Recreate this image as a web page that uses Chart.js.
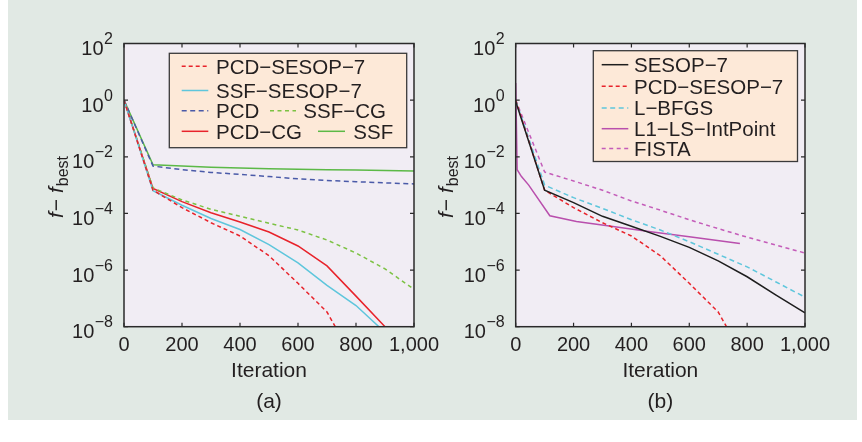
<!DOCTYPE html>
<html>
<head>
<meta charset="utf-8">
<script src="https://cdn.jsdelivr.net/npm/chart.js@4.4.1/dist/chart.umd.min.js"></script>
<style>
  html, body { margin: 0; padding: 0; background: #ffffff; }
  #wrap { position: relative; width: 862px; height: 442px; overflow: hidden; background: #ffffff; }
  #panel { position: absolute; left: 8px; top: 0; width: 849px; height: 420px; background: #e1e9e4; }
  #cA { position: absolute; left: 0; top: 0; }
  #cB { position: absolute; left: 430px; top: 0; }
</style>
</head>
<body>
<div id="wrap">
  <div id="panel"></div>
  <canvas id="cA" width="450" height="442"></canvas>
  <canvas id="cB" width="432" height="442"></canvas>
</div>
<script>
// ---- data -------------------------------------------------------------
const iterations = [0, 100, 200, 300, 400, 500, 600, 700, 800, 900, 1000];
const yTickExponents = [2, 0, -2, -4, -6, -8];
const xTickStep = 200;

// (a) coordinate-descent family
const pcdSesop7 = [1, 6.6e-4, 1.6e-4, 4.7e-5, 1.6e-5, 3.2e-6, 3.4e-7, 3.3e-8, 5.0e-10, null, null];
const ssfSesop7 = [1, 6.3e-4, 1.95e-4, 6.6e-5, 2.7e-5, 7.9e-6, 1.8e-6, 2.9e-7, 5.6e-8, 6.3e-9, null];
const pcd       = [1, 4.7e-3, 3.5e-3, 2.8e-3, 2.4e-3, 2.0e-3, 1.66e-3, 1.45e-3, 1.32e-3, 1.2e-3, 1.1e-3];
const ssfCg     = [1, 7.9e-4, 3.0e-4, 1.4e-4, 7.9e-5, 4.5e-5, 2.6e-5, 1.15e-5, 4.0e-6, 1.1e-6, 2.1e-7];
const pcdCg     = [1, 7.6e-4, 2.6e-4, 1.05e-4, 5.0e-5, 2.2e-5, 7.1e-6, 1.4e-6, 1.2e-7, 1.0e-8, null];
const ssf       = [1, 5.2e-3, 4.7e-3, 4.3e-3, 4.0e-3, 3.8e-3, 3.6e-3, 3.5e-3, 3.4e-3, 3.25e-3, 3.15e-3];

// (b) comparison with other solvers
const sesop7 = [0.9, 6.6e-4, 2.4e-4, 7.9e-5, 3.5e-5, 1.55e-5, 6.3e-6, 2.1e-6, 5.8e-7, 1.3e-7, 3.1e-8];
const lbfgs  = [1, 1.0e-3, 3.6e-4, 1.5e-4, 6.0e-5, 2.6e-5, 1.0e-5, 3.6e-6, 1.3e-6, 3.8e-7, 1.1e-7];
const fista  = [1, 2.9e-3, 1.4e-3, 6.6e-4, 2.75e-4, 1.3e-4, 6.0e-5, 2.9e-5, 1.45e-5, 7.6e-6, 4.0e-6];
const l1lsIterations = [0, 5, 20, 45, 118, 210, 330, 460, 600, 775];
const l1lsIntPoint   = [4.0, 3.5e-3, 2.0e-3, 1.0e-3, 8.3e-5, 5.2e-5, 3.5e-5, 2.3e-5, 1.5e-5, 8.7e-6];

// ---- style ------------------------------------------------------------
const FONT = "'Liberation Sans', Arial, Helvetica, sans-serif";
const INK = '#231f20';
const PLOT_BG = '#f1edf4';
const LEGEND_BG = '#fde9d8';
const RED = '#e8232b', CYAN = '#5ec6dc', BLUE = '#4a5aa8';
const GREEN_D = '#7cc243', GREEN = '#5cb947', BLACK = '#1e1e1e';
const MAGENTA = '#b94fad', MAGENTA_D = '#c45cb9';

const pts = (xs, ys) => xs.map((x, i) => ({ x, y: ys[i] })).filter(p => p.y !== null);

function line(label, xs, ys, color, dash) {
  return {
    label, data: pts(xs, ys), borderColor: color, backgroundColor: color,
    borderWidth: 1.5, borderDash: dash || [], pointRadius: 0, tension: 0, fill: false
  };
}

function drawYTitle(ctx, x, y) {
  ctx.save();
  ctx.translate(x, y);
  ctx.rotate(-Math.PI / 2);
  ctx.fillStyle = INK;
  ctx.textBaseline = 'alphabetic';
  ctx.textAlign = 'left';
  let u = 0;
  ctx.font = `italic 21px ${FONT}`;
  ctx.fillText('f', u, 0); u += ctx.measureText('f').width + 1;
  ctx.font = `21px ${FONT}`;
  ctx.fillText('\u2212 ', u, 0); u += ctx.measureText('\u2212 ').width;
  ctx.font = `italic 21px ${FONT}`;
  ctx.fillText('f', u, 0); u += ctx.measureText('f').width + 1;
  ctx.font = `16px ${FONT}`;
  ctx.fillText('best', u, 4.5);
  ctx.restore();
}

function makeDecor(spec) {
  return {
    id: 'decor',
    beforeDatasetsDraw(chart) {
      const { ctx, chartArea: a } = chart;
      ctx.save();
      ctx.fillStyle = PLOT_BG;
      ctx.fillRect(a.left, a.top, a.right - a.left, a.bottom - a.top);
      ctx.restore();
    },
    afterDatasetsDraw(chart) {
      const { ctx, chartArea: a, scales } = chart;
      const xs = scales.x, ys = scales.y;
      ctx.save();
      // frame with inward ticks on all four sides
      ctx.strokeStyle = '#2a2a2a';
      ctx.lineWidth = 1.5;
      ctx.strokeRect(a.left, a.top, a.right - a.left, a.bottom - a.top);
      ctx.lineWidth = 1.2;
      ctx.beginPath();
      xs.ticks.forEach(t => {
        const px = xs.getPixelForValue(t.value);
        ctx.moveTo(px, a.bottom); ctx.lineTo(px, a.bottom - 4);
        ctx.moveTo(px, a.top); ctx.lineTo(px, a.top + 4);
      });
      yTickExponents.forEach(e => {
        const py = ys.getPixelForValue(Math.pow(10, e));
        ctx.moveTo(a.left, py); ctx.lineTo(a.left + 4, py);
        ctx.moveTo(a.right, py); ctx.lineTo(a.right - 4, py);
      });
      ctx.stroke();

      // decade labels 10^e
      ctx.fillStyle = INK;
      ctx.textBaseline = 'alphabetic';
      ctx.textAlign = 'left';
      yTickExponents.forEach(e => {
        const py = ys.getPixelForValue(Math.pow(10, e));
        const sup = e < 0 ? '\u2212' + Math.abs(e) : String(e);
        ctx.font = `16px ${FONT}`;
        const ws = ctx.measureText(sup).width;
        ctx.font = `20px ${FONT}`;
        const wb = ctx.measureText('10').width;
        const right = a.left - 11;
        ctx.fillText('10', right - ws - wb - 0.5, py + 11.5);
        ctx.font = `16px ${FONT}`;
        ctx.fillText(sup, right - ws, py + 0.5);
      });

      drawYTitle(ctx, spec.titleX, spec.titleY);

      // legend box
      const [x0, y0, x1, y1] = spec.box;
      ctx.fillStyle = LEGEND_BG;
      ctx.fillRect(x0, y0, x1 - x0, y1 - y0);
      ctx.strokeStyle = '#3a3a3a';
      ctx.lineWidth = 1.3;
      ctx.strokeRect(x0, y0, x1 - x0, y1 - y0);
      ctx.font = `20.5px ${FONT}`;
      spec.items.forEach(it => {
        const ds = chart.data.datasets[it.ds];
        ctx.strokeStyle = ds.borderColor;
        ctx.lineWidth = ds.borderWidth;
        ctx.setLineDash(ds.borderDash);
        ctx.beginPath();
        ctx.moveTo(it.x0, it.y); ctx.lineTo(it.x1, it.y);
        ctx.stroke();
        ctx.setLineDash([]);
        ctx.fillStyle = INK;
        ctx.fillText(ds.label, it.tx, it.y + 7.4);
      });
      ctx.restore();
    }
  };
}

function makeOptions(tag, padLeft, padRight) {
  return {
    responsive: false,
    animation: false,
    locale: 'en-US',
    layout: { padding: { left: padLeft, right: padRight, top: 43.5, bottom: 0 } },
    plugins: { legend: { display: false }, tooltip: { enabled: false } },
    scales: {
      x: {
        type: 'linear', min: 0, max: 1000,
        grid: { display: false, drawTicks: false },
        border: { display: false },
        ticks: {
          stepSize: xTickStep, color: INK, padding: 7, maxRotation: 0, autoSkip: false,
          font: { family: FONT, size: 20 },
          callback: v => v.toLocaleString('en-US')
        },
        title: {
          display: true, text: ['Iteration', tag], color: INK,
          font: { family: FONT, size: 21, lineHeight: 1.5 },
          padding: { top: 0, bottom: 24 }
        },
        afterFit(s) { s.height = 115.3; }
      },
      y: { type: 'logarithmic', min: 1e-8, max: 1e2, display: false }
    }
  };
}

// ---- (a) --------------------------------------------------------------
new Chart(document.getElementById('cA'), {
  type: 'line',
  data: {
    datasets: [
      line('PCD\u2212SESOP\u22127', iterations, pcdSesop7, RED, [4, 3]),
      line('SSF\u2212SESOP\u22127', iterations, ssfSesop7, CYAN),
      line('PCD', iterations, pcd, BLUE, [5, 3.5]),
      line('SSF\u2212CG', iterations, ssfCg, GREEN_D, [4, 3.5]),
      line('PCD\u2212CG', iterations, pcdCg, RED),
      line('SSF', iterations, ssf, GREEN)
    ]
  },
  options: makeOptions('(a)', 124, 36),
  plugins: [makeDecor({
    titleX: 63, titleY: 218,
    box: [169.3, 53.3, 406.7, 147.7],
    items: [
      { ds: 0, x0: 181.7, x1: 208.3, y: 66.2, tx: 216 },
      { ds: 1, x0: 181.7, x1: 208.3, y: 90.5, tx: 216 },
      { ds: 2, x0: 181.7, x1: 208.3, y: 110.8, tx: 216 },
      { ds: 3, x0: 270, x1: 296, y: 110.8, tx: 303.3 },
      { ds: 4, x0: 181.7, x1: 208.3, y: 131.3, tx: 216 },
      { ds: 5, x0: 318, x1: 345, y: 131.3, tx: 353.3 }
    ]
  })]
});

// ---- (b) --------------------------------------------------------------
new Chart(document.getElementById('cB'), {
  type: 'line',
  data: {
    datasets: [
      line('SESOP\u22127', iterations, sesop7, BLACK),
      line('PCD\u2212SESOP\u22127', iterations, pcdSesop7, RED, [4, 3]),
      line('L\u2212BFGS', iterations, lbfgs, CYAN, [5, 3.5]),
      line('L1\u2212LS\u2212IntPoint', l1lsIterations, l1lsIntPoint, MAGENTA),
      line('FISTA', iterations, fista, MAGENTA_D, [4, 3.5])
    ]
  },
  options: makeOptions('(b)', 85.7, 57),
  plugins: [makeDecor({
    titleX: 23, titleY: 218,
    box: [163.3, 50.7, 367.5, 161.5],
    items: [
      { ds: 0, x0: 171.7, x1: 198.3, y: 64.7, tx: 204 },
      { ds: 1, x0: 171.7, x1: 198.3, y: 86.3, tx: 204 },
      { ds: 2, x0: 171.7, x1: 198.3, y: 108.0, tx: 204 },
      { ds: 3, x0: 171.7, x1: 198.3, y: 128.7, tx: 204 },
      { ds: 4, x0: 171.7, x1: 198.3, y: 148.5, tx: 204 }
    ]
  })]
});
</script>
</body>
</html>
